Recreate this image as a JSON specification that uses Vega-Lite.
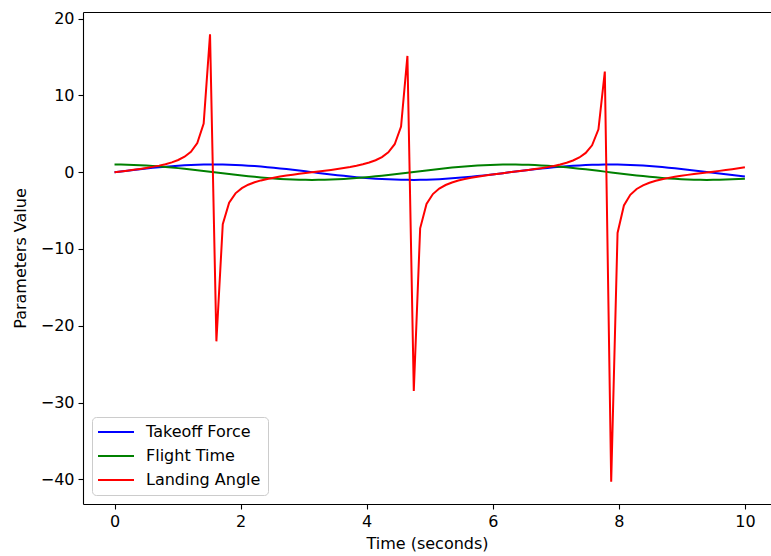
{
  "$schema": "https://vega.github.io/schema/vega-lite/v6.json",
  "width": 688,
  "height": 492,
  "autosize": {"type": "none"},
  "padding": {"left": 83, "top": 12, "right": 0, "bottom": 52},
  "background": "white",
  "config": {
    "font": "DejaVu Sans",
    "view": {"stroke": null},
    "axis": {
      "labelFont": "DejaVu Sans", "titleFont": "DejaVu Sans",
      "labelFontSize": 16, "titleFontSize": 16, "titleFontWeight": "normal",
      "labelColor": "#000000", "titleColor": "#000000",
      "tickColor": "#000000", "domainColor": "#000000",
      "tickSize": 5, "tickWidth": 1.1, "domainWidth": 1.1,
      "labelPadding": 4, "grid": false
    },
    "legend": {
      "labelFont": "DejaVu Sans", "labelFontSize": 16, "labelColor": "#000000"
    }
  },
  "data": {"values": [
    {"t":0,"Takeoff Force":0,"Flight Time":1,"Landing Angle":0},
    {"t":0.10101,"Takeoff Force":0.10084,"Flight Time":0.9949,"Landing Angle":0.10136},
    {"t":0.20202,"Takeoff Force":0.20065,"Flight Time":0.97966,"Landing Angle":0.20482},
    {"t":0.30303,"Takeoff Force":0.29841,"Flight Time":0.95444,"Landing Angle":0.31266},
    {"t":0.40404,"Takeoff Force":0.39314,"Flight Time":0.91948,"Landing Angle":0.42757},
    {"t":0.50505,"Takeoff Force":0.48385,"Flight Time":0.87515,"Landing Angle":0.55288},
    {"t":0.60606,"Takeoff Force":0.56963,"Flight Time":0.8219,"Landing Angle":0.69307},
    {"t":0.70707,"Takeoff Force":0.64961,"Flight Time":0.76027,"Landing Angle":0.85445},
    {"t":0.80808,"Takeoff Force":0.72296,"Flight Time":0.69089,"Landing Angle":1.04642},
    {"t":0.90909,"Takeoff Force":0.78895,"Flight Time":0.61446,"Landing Angle":1.28395},
    {"t":1.0101,"Takeoff Force":0.84689,"Flight Time":0.53178,"Landing Angle":1.59256},
    {"t":1.11111,"Takeoff Force":0.89619,"Flight Time":0.44367,"Landing Angle":2.01997},
    {"t":1.21212,"Takeoff Force":0.93636,"Flight Time":0.35104,"Landing Angle":2.66743},
    {"t":1.31313,"Takeoff Force":0.96699,"Flight Time":0.25483,"Landing Angle":3.79471},
    {"t":1.41414,"Takeoff Force":0.98776,"Flight Time":0.15602,"Landing Angle":6.3311},
    {"t":1.51515,"Takeoff Force":0.99845,"Flight Time":0.05562,"Landing Angle":17.9528},
    {"t":1.61616,"Takeoff Force":0.99897,"Flight Time":-0.04535,"Landing Angle":-22.0288},
    {"t":1.71717,"Takeoff Force":0.98931,"Flight Time":-0.14585,"Landing Angle":-6.783},
    {"t":1.81818,"Takeoff Force":0.96956,"Flight Time":-0.24487,"Landing Angle":-3.95948},
    {"t":1.91919,"Takeoff Force":0.93992,"Flight Time":-0.34139,"Landing Angle":-2.75323},
    {"t":2.0202,"Takeoff Force":0.90071,"Flight Time":-0.43443,"Landing Angle":-2.07331},
    {"t":2.12121,"Takeoff Force":0.85231,"Flight Time":-0.52304,"Landing Angle":-1.62953},
    {"t":2.22222,"Takeoff Force":0.79522,"Flight Time":-0.60632,"Landing Angle":-1.31156},
    {"t":2.32323,"Takeoff Force":0.73003,"Flight Time":-0.68342,"Landing Angle":-1.0682},
    {"t":2.42424,"Takeoff Force":0.65739,"Flight Time":-0.75355,"Landing Angle":-0.8724},
    {"t":2.52525,"Takeoff Force":0.57806,"Flight Time":-0.816,"Landing Angle":-0.7084},
    {"t":2.62626,"Takeoff Force":0.49282,"Flight Time":-0.87013,"Landing Angle":-0.56638},
    {"t":2.72727,"Takeoff Force":0.40257,"Flight Time":-0.91539,"Landing Angle":-0.43978},
    {"t":2.82828,"Takeoff Force":0.30821,"Flight Time":-0.95132,"Landing Angle":-0.32399},
    {"t":2.92929,"Takeoff Force":0.21071,"Flight Time":-0.97755,"Landing Angle":-0.21555},
    {"t":3.0303,"Takeoff Force":0.11106,"Flight Time":-0.99381,"Landing Angle":-0.11176},
    {"t":3.13131,"Takeoff Force":0.01028,"Flight Time":-0.99995,"Landing Angle":-0.01028},
    {"t":3.23232,"Takeoff Force":-0.0906,"Flight Time":-0.99589,"Landing Angle":0.09098},
    {"t":3.33333,"Takeoff Force":-0.19057,"Flight Time":-0.98167,"Landing Angle":0.19413},
    {"t":3.43434,"Takeoff Force":-0.28859,"Flight Time":-0.95745,"Landing Angle":0.30141},
    {"t":3.53535,"Takeoff Force":-0.38366,"Flight Time":-0.92347,"Landing Angle":0.41546},
    {"t":3.63636,"Takeoff Force":-0.47483,"Flight Time":-0.88008,"Landing Angle":0.53953},
    {"t":3.73737,"Takeoff Force":-0.56116,"Flight Time":-0.82771,"Landing Angle":0.67796},
    {"t":3.83838,"Takeoff Force":-0.64176,"Flight Time":-0.76691,"Landing Angle":0.83682},
    {"t":3.93939,"Takeoff Force":-0.71582,"Flight Time":-0.69828,"Landing Angle":1.02512},
    {"t":4.0404,"Takeoff Force":-0.78259,"Flight Time":-0.62254,"Landing Angle":1.25709},
    {"t":4.14141,"Takeoff Force":-0.84137,"Flight Time":-0.54045,"Landing Angle":1.55679},
    {"t":4.24242,"Takeoff Force":-0.89158,"Flight Time":-0.45286,"Landing Angle":1.96882},
    {"t":4.34343,"Takeoff Force":-0.93271,"Flight Time":-0.36064,"Landing Angle":2.58624},
    {"t":4.44444,"Takeoff Force":-0.96432,"Flight Time":-0.26475,"Landing Angle":3.64235},
    {"t":4.54545,"Takeoff Force":-0.9861,"Flight Time":-0.16616,"Landing Angle":5.93461},
    {"t":4.64646,"Takeoff Force":-0.99783,"Flight Time":-0.06588,"Landing Angle":15.1468},
    {"t":4.74747,"Takeoff Force":-0.99939,"Flight Time":0.03508,"Landing Angle":-28.4905},
    {"t":4.84848,"Takeoff Force":-0.99075,"Flight Time":0.13568,"Landing Angle":-7.3024},
    {"t":4.94949,"Takeoff Force":-0.97202,"Flight Time":0.23489,"Landing Angle":-4.1382},
    {"t":5.05051,"Takeoff Force":-0.94338,"Flight Time":0.33171,"Landing Angle":-2.84399},
    {"t":5.15152,"Takeoff Force":-0.90512,"Flight Time":0.42515,"Landing Angle":-2.12893},
    {"t":5.25253,"Takeoff Force":-0.85764,"Flight Time":0.51426,"Landing Angle":-1.66772},
    {"t":5.35354,"Takeoff Force":-0.80141,"Flight Time":0.59812,"Landing Angle":-1.33988},
    {"t":5.45455,"Takeoff Force":-0.73701,"Flight Time":0.67588,"Landing Angle":-1.09044},
    {"t":5.55556,"Takeoff Force":-0.6651,"Flight Time":0.74676,"Landing Angle":-0.89065},
    {"t":5.65657,"Takeoff Force":-0.58641,"Flight Time":0.81002,"Landing Angle":-0.72394},
    {"t":5.75758,"Takeoff Force":-0.50174,"Flight Time":0.86502,"Landing Angle":-0.58003},
    {"t":5.85859,"Takeoff Force":-0.41195,"Flight Time":0.91121,"Landing Angle":-0.4521},
    {"t":5.9596,"Takeoff Force":-0.31797,"Flight Time":0.9481,"Landing Angle":-0.33537},
    {"t":6.06061,"Takeoff Force":-0.22074,"Flight Time":0.97533,"Landing Angle":-0.22633},
    {"t":6.16162,"Takeoff Force":-0.12127,"Flight Time":0.99262,"Landing Angle":-0.12217},
    {"t":6.26263,"Takeoff Force":-0.02055,"Flight Time":0.99979,"Landing Angle":-0.02056},
    {"t":6.36364,"Takeoff Force":0.08037,"Flight Time":0.99677,"Landing Angle":0.08063},
    {"t":6.46465,"Takeoff Force":0.18047,"Flight Time":0.98358,"Landing Angle":0.18348},
    {"t":6.56566,"Takeoff Force":0.27873,"Flight Time":0.96037,"Landing Angle":0.29024},
    {"t":6.66667,"Takeoff Force":0.37415,"Flight Time":0.92737,"Landing Angle":0.40346},
    {"t":6.76768,"Takeoff Force":0.46576,"Flight Time":0.88491,"Landing Angle":0.52634},
    {"t":6.86869,"Takeoff Force":0.55262,"Flight Time":0.83343,"Landing Angle":0.66306},
    {"t":6.9697,"Takeoff Force":0.63385,"Flight Time":0.77346,"Landing Angle":0.81949},
    {"t":7.07071,"Takeoff Force":0.70861,"Flight Time":0.7056,"Landing Angle":1.00426},
    {"t":7.17172,"Takeoff Force":0.77615,"Flight Time":0.63055,"Landing Angle":1.23091},
    {"t":7.27273,"Takeoff Force":0.83578,"Flight Time":0.54907,"Landing Angle":1.52216},
    {"t":7.37374,"Takeoff Force":0.88688,"Flight Time":0.46199,"Landing Angle":1.91969},
    {"t":7.47475,"Takeoff Force":0.92895,"Flight Time":0.37021,"Landing Angle":2.50927},
    {"t":7.57576,"Takeoff Force":0.96155,"Flight Time":0.27465,"Landing Angle":3.50103},
    {"t":7.67677,"Takeoff Force":0.98434,"Flight Time":0.17629,"Landing Angle":5.5838},
    {"t":7.77778,"Takeoff Force":0.9971,"Flight Time":0.07613,"Landing Angle":13.0978},
    {"t":7.87879,"Takeoff Force":0.99969,"Flight Time":-0.02481,"Landing Angle":-40.2997},
    {"t":7.9798,"Takeoff Force":0.9921,"Flight Time":-0.12549,"Landing Angle":-7.90595},
    {"t":8.08081,"Takeoff Force":0.97438,"Flight Time":-0.22489,"Landing Angle":-4.33273},
    {"t":8.18182,"Takeoff Force":0.94674,"Flight Time":-0.322,"Landing Angle":-2.94021},
    {"t":8.28283,"Takeoff Force":0.90945,"Flight Time":-0.41582,"Landing Angle":-2.1871},
    {"t":8.38384,"Takeoff Force":0.86288,"Flight Time":-0.50541,"Landing Angle":-1.70728},
    {"t":8.48485,"Takeoff Force":0.80752,"Flight Time":-0.58985,"Landing Angle":-1.36903},
    {"t":8.58586,"Takeoff Force":0.74392,"Flight Time":-0.66827,"Landing Angle":-1.1132},
    {"t":8.68687,"Takeoff Force":0.67274,"Flight Time":-0.73988,"Landing Angle":-0.90926},
    {"t":8.78788,"Takeoff Force":0.5947,"Flight Time":-0.80395,"Landing Angle":-0.73973},
    {"t":8.88889,"Takeoff Force":0.51061,"Flight Time":-0.85982,"Landing Angle":-0.59386},
    {"t":8.9899,"Takeoff Force":0.4213,"Flight Time":-0.90692,"Landing Angle":-0.46454},
    {"t":9.09091,"Takeoff Force":0.3277,"Flight Time":-0.94478,"Landing Angle":-0.34685},
    {"t":9.19192,"Takeoff Force":0.23076,"Flight Time":-0.97301,"Landing Angle":-0.23716},
    {"t":9.29293,"Takeoff Force":0.13147,"Flight Time":-0.99132,"Landing Angle":-0.13262},
    {"t":9.39394,"Takeoff Force":0.03083,"Flight Time":-0.99952,"Landing Angle":-0.03085},
    {"t":9.49495,"Takeoff Force":-0.07011,"Flight Time":-0.99754,"Landing Angle":0.07029},
    {"t":9.59596,"Takeoff Force":-0.17035,"Flight Time":-0.98538,"Landing Angle":0.17287},
    {"t":9.69697,"Takeoff Force":-0.26884,"Flight Time":-0.96318,"Landing Angle":0.27912},
    {"t":9.79798,"Takeoff Force":-0.3646,"Flight Time":-0.93117,"Landing Angle":0.39155},
    {"t":9.89899,"Takeoff Force":-0.45664,"Flight Time":-0.88965,"Landing Angle":0.51328},
    {"t":10,"Takeoff Force":-0.54402,"Flight Time":-0.83907,"Landing Angle":0.64836}
  ]},
  "encoding": {
    "x": {
      "field": "t", "type": "quantitative",
      "scale": {"domain": [-0.5, 10.414], "nice": false, "zero": false},
      "axis": {"values": [0, 2, 4, 6, 8, 10], "title": "Time (seconds)", "titlePadding": 6}
    }
  },
  "layer": [
    {
      "mark": {"type": "line", "strokeWidth": 2, "clip": true},
      "encoding": {
        "y": {
          "field": "Takeoff Force", "type": "quantitative",
          "scale": {"domain": [-43.212, 20.865], "nice": false, "zero": false},
          "axis": {"values": [-40, -30, -20, -10, 0, 10, 20], "title": "Parameters Value", "titlePadding": 12}
        },
        "color": {
          "datum": "Takeoff Force", "type": "nominal",
          "scale": {"domain": ["Takeoff Force", "Flight Time", "Landing Angle"], "range": ["#0000ff", "#008000", "#ff0000"]},
          "legend": {
            "title": null, "orient": "none", "legendX": 9, "legendY": 405,
            "padding": 7, "fillColor": "rgba(255,255,255,0.8)", "strokeColor": "#cccccc",
            "cornerRadius": 4, "symbolType": "M-3,0H3", "symbolSize": 144,
            "symbolStrokeWidth": 2, "symbolOffset": 9, "labelOffset": 22, "rowPadding": 8
          }
        }
      }
    },
    {
      "mark": {"type": "line", "strokeWidth": 2, "clip": true},
      "encoding": {
        "x": {"field": "t", "type": "quantitative", "axis": {"orient": "top", "labels": false, "ticks": false, "title": null, "domain": true}},
        "y": {"field": "Flight Time", "type": "quantitative"},
        "color": {"datum": "Flight Time", "type": "nominal"}
      }
    },
    {
      "mark": {"type": "line", "strokeWidth": 2, "clip": true},
      "encoding": {
        "x": {"field": "t", "type": "quantitative", "axis": null},
        "y": {"field": "Landing Angle", "type": "quantitative"},
        "color": {"datum": "Landing Angle", "type": "nominal"}
      }
    }
  ],
  "resolve": {"axis": {"x": "independent"}}
}
